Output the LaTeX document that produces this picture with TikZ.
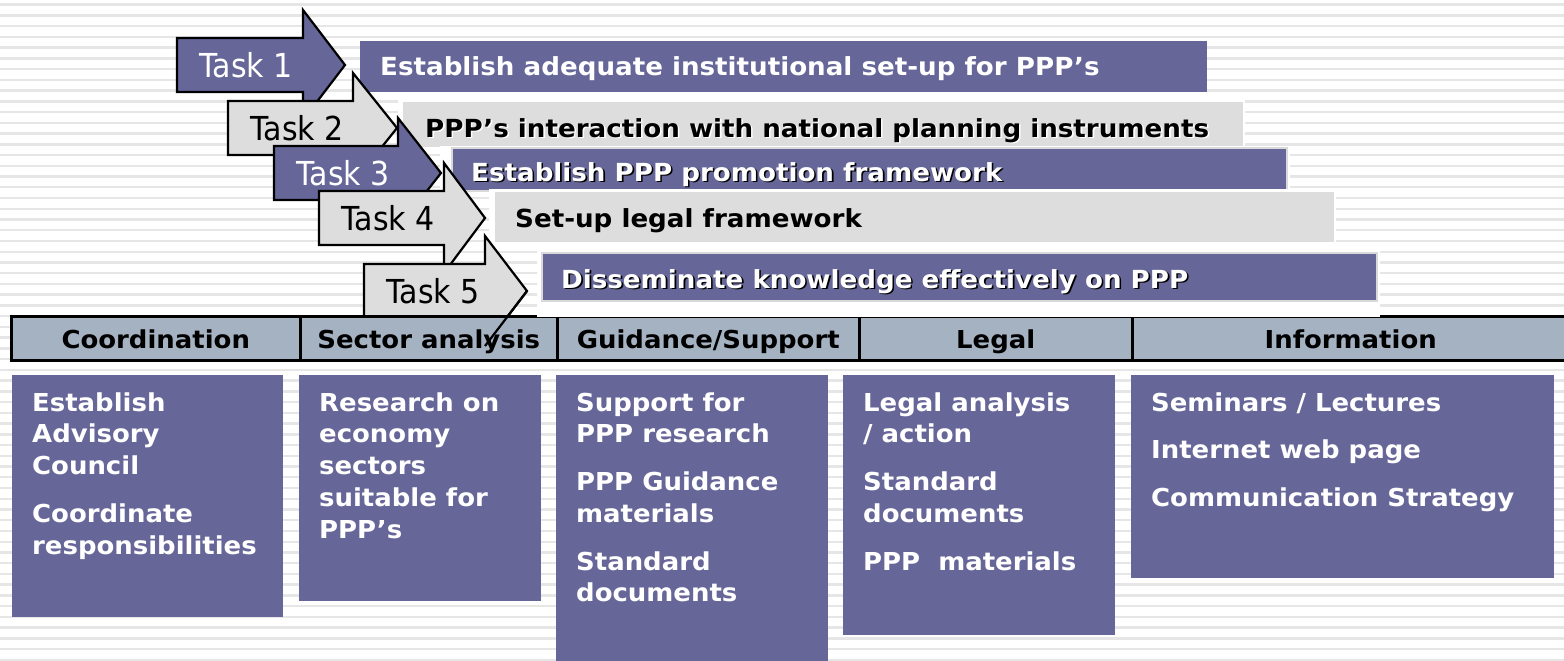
\documentclass[tikz,border=0pt]{standalone}
\usepackage{fontspec}
\setmainfont{DejaVu Sans}
\newfontfamily\bfnt[FakeStretch=1.05]{DejaVu Sans Bold}
\newfontfamily\tfnt[FakeStretch=0.91]{DejaVu Sans}
\definecolor{pur}{RGB}{102,102,153}
\definecolor{lgray}{RGB}{221,221,221}
\definecolor{hdrc}{RGB}{164,178,194}
\definecolor{stripec}{RGB}{230,230,230}
\newcommand\shtext[3]{\makebox[0pt][l]{\hspace*{1.6pt}\raisebox{-1.6pt}{\textcolor{#1}{#3}}}\textcolor{#2}{#3}}
% name, L, R, T, C, fill colour, text colour, label
\newcommand\taskarrow[8]{%
  \draw[taskline,fill=#6] (#2,#5-27) -- (#3,#5-27) -- (#3,#5-55) -- (#4,#5) -- (#3,#5+55) -- (#3,#5+27) -- (#2,#5+27) -- cycle;
  \coordinate (#1tip) at (#4,#5);
  \coordinate (#1hb) at (#3,#5+55);
  \node[tasklabel,text=#7] (#1) at (#2+22,#5+12.5) {#8};
}
\begin{document}
\begin{tikzpicture}[x=1pt,y=-1pt,
  taskline/.style={draw=black,line width=2.2pt,line join=miter},
  tasklabel/.style={anchor=base west,inner sep=0pt,font=\tfnt\fontsize{33pt}{40pt}\selectfont},
  bartext/.style={anchor=base west,inner sep=0pt,font=\bfnt\fontsize{24.9pt}{31.7pt}\selectfont},
  hdrcell/.style={draw=black,line width=2.5pt,fill=hdrc,anchor=north west,minimum height=44pt,
    inner sep=0pt,text height=25pt,text depth=5pt,font=\bfnt\fontsize{24.7pt}{31.7pt}\selectfont},
  boxtext/.style={anchor=north west,inner sep=0pt,align=left,text=white,
    font=\bfnt\fontsize{24.7pt}{31.7pt}\selectfont},
  stripe/.style={draw=stripec,line width=2.4pt}
]
\useasboundingbox (0,0) rectangle (1564,661);
\fill[white] (0,0) rectangle (1564,661);
\foreach \i in {0,...,61} \draw[stripe] (0,4.7+10.74*\i) -- (1564,4.7+10.74*\i);

% bars 1-4
\fill[pur] (360,41) rectangle (1207,92);
\node[bartext,text=white] (b1) at (380,75) {Establish adequate institutional set-up for PPP’s};
\fill[white] (398,93) rectangle (1245,150);
\fill[lgray] (403,102) rectangle (1243,147);
\node[bartext] (b2) at (425,137) {\shtext{white}{black}{PPP’s interaction with national planning instruments}};
\fill[white] (440,146) rectangle (1290,194);
\filldraw[fill=pur,draw=white!85!black,line width=1.5pt] (452,148) rectangle (1287,191);
\node[bartext] (b3) at (471,181) {\shtext{black}{white}{Establish PPP promotion framework}};
\fill[white] (489,189) rectangle (1336,250);
\fill[lgray] (495,192) rectangle (1334,242);
\node[bartext,text=black] (b4) at (515,227) {Set-up legal framework};

% task arrows
\taskarrow{t1}{177}{303}{345}{65}{pur}{white}{Task 1}
\taskarrow{t2}{228}{353}{397}{128}{lgray}{black}{Task 2}
\taskarrow{t3}{274}{398}{441}{173}{pur}{white}{Task 3}
\taskarrow{t4}{319}{444}{485}{218}{lgray}{black}{Task 4}
\taskarrow{t5}{364}{485}{527}{291}{lgray}{black}{Task 5}

% header row
\node[hdrcell,minimum width=289pt] (h1) at (10,315) {Coordination};
\node[hdrcell,minimum width=257pt] (h2) at (299,315) {Sector analysis};
\node[hdrcell,minimum width=302pt] (h3) at (556,315) {Guidance/Support};
\node[hdrcell,minimum width=273pt] (h4) at (858,315) {Legal};
\node[hdrcell,minimum width=437pt] (h5) at (1131,315) {Information};

% bar 5
\fill[white] (537,243) rectangle (1380,317);
\filldraw[fill=pur,draw=white!85!black,line width=1.5pt] (542,253) rectangle (1377,301);
\node[bartext] (b5) at (561,288) {\shtext{black}{white}{Disseminate knowledge effectively on PPP}};

% lower edge of the Task 5 head, seen over the header
\draw[taskline] (t5tip) -- (t5hb);

% boxes
\fill[pur] (12,375) rectangle (283,617);
\fill[pur] (299,375) rectangle (541,601);
\fill[pur] (556,375) rectangle (828,662);
\fill[pur] (843,375) rectangle (1115,635);
\fill[pur] (1131,375) rectangle (1554,578);
\node[boxtext] (c1) at (32,391) {\rule{0pt}{20pt}Establish\\Advisory\\Council\\[16pt]Coordinate\\responsibilities};
\node[boxtext] (c2) at (319,391) {\rule{0pt}{20pt}Research on\\economy\\sectors\\suitable for\\PPP’s};
\node[boxtext] (c3) at (576,391) {\rule{0pt}{20pt}Support for\\PPP research\\[16pt]PPP Guidance\\materials\\[16pt]Standard\\documents};
\node[boxtext] (c4) at (863,391) {\rule{0pt}{20pt}Legal analysis\\/ action\\[16pt]Standard\\documents\\[16pt]PPP\ \ materials};
\node[boxtext] (c5) at (1151,391) {\rule{0pt}{20pt}Seminars / Lectures\\[16pt]Internet web page\\[16pt]Communication Strategy};
\end{tikzpicture}
\end{document}
